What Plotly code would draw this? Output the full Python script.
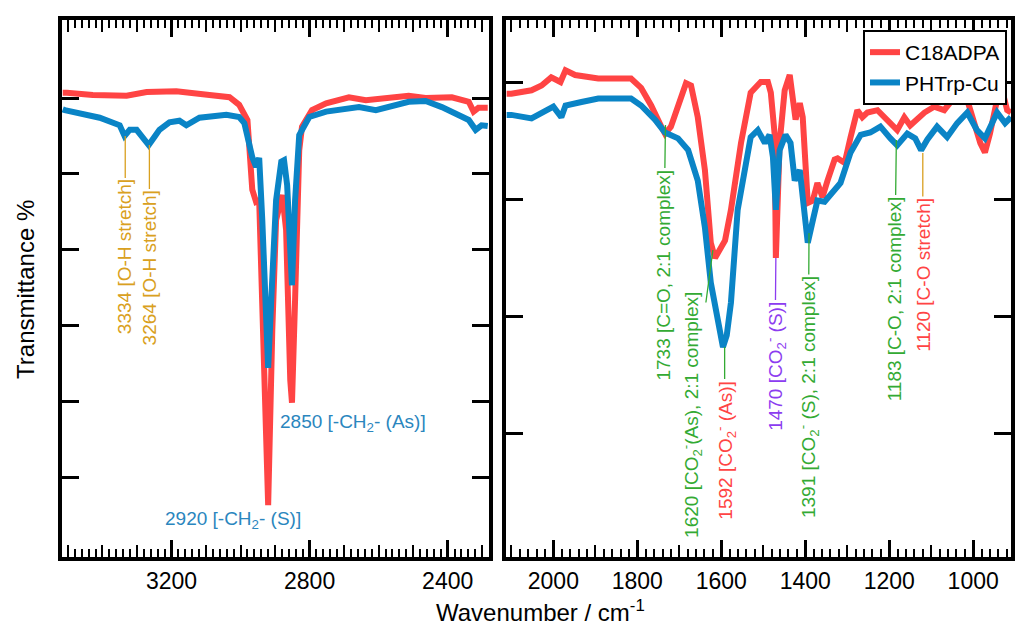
import plotly.graph_objects as go

# ---------------- data ----------------
# Left panel (C-H / O-H region)
left_wn_red = [3515, 3503, 3428, 3330, 3272, 3186, 3090, 3032, 3004, 2980, 2966, 2955, 2946,
               2934, 2920, 2908, 2897, 2879, 2868, 2856, 2851, 2842, 2830, 2822, 2793, 2752,
               2686, 2637, 2562, 2513, 2464, 2388, 2339, 2325, 2311, 2284]
left_T_red = [90.7, 90.7, 90.4, 90.3, 90.8, 90.9, 90.4, 90.1, 89.1, 87.1, 77.9, 76.3, 76.5,
              59.4, 36.3, 59.4, 73.9, 77.2, 72.6, 52.8, 49.8, 63.4, 83.1, 86.2, 88.4, 89.3,
              90.1, 89.7, 90.1, 90.3, 90.0, 90.1, 89.5, 88.2, 88.7, 88.7]

left_wn_blue = [3515, 3509, 3408, 3350, 3336, 3321, 3301, 3281, 3266, 3249, 3235, 3206, 3177,
                3157, 3119, 3041, 3004, 2989, 2975, 2966, 2955, 2946, 2937, 2929, 2920, 2911,
                2897, 2882, 2874, 2865, 2856, 2851, 2842, 2830, 2801, 2752, 2657, 2608, 2513,
                2464, 2417, 2339, 2319, 2302, 2284]
left_T_blue = [88.5, 88.4, 87.4, 86.4, 85.0, 85.8, 85.8, 84.7, 83.8, 84.9, 85.8, 86.8, 87.0,
               86.4, 87.4, 87.8, 87.5, 86.7, 83.8, 82.2, 80.9, 82.1, 73.9, 63.4, 54.4, 63.4,
               76.5, 81.6, 81.8, 78.5, 69.9, 65.3, 76.5, 85.1, 87.5, 88.2, 88.8, 88.4, 89.5,
               89.6, 88.8, 87.1, 85.8, 86.4, 86.3]

# Right panel (fingerprint region)
right_wn_red = [2112, 2100, 2052, 2028, 2005, 1983, 1971, 1948, 1893, 1829, 1815, 1791, 1767,
                1743, 1734, 1720, 1698, 1684, 1672, 1656, 1639, 1625, 1615, 1591, 1577, 1553,
                1530, 1506, 1489, 1482, 1473, 1470, 1461, 1449, 1437, 1430, 1423, 1413, 1406,
                1394, 1382, 1371, 1359, 1347, 1330, 1323, 1306, 1292, 1276, 1264, 1252, 1228,
                1204, 1181, 1164, 1150, 1116, 1093, 1069, 1045, 1021, 1007, 983, 972, 960, 943,
                931, 919, 910]
right_T_red = [89.0, 89.0, 89.3, 89.7, 90.4, 90.0, 91.0, 90.6, 90.3, 90.2, 90.3, 89.5, 88.0,
               86.2, 85.6, 86.2, 88.5, 89.9, 89.7, 87.0, 82.5, 76.3, 75.0, 76.5, 79.1, 84.8,
               89.1, 90.0, 90.0, 89.1, 85.6, 75.0, 84.8, 89.3, 90.6, 88.7, 86.8, 88.2, 87.0,
               79.7, 79.9, 81.4, 80.2, 81.6, 83.4, 83.5, 83.1, 85.3, 87.6, 87.0, 87.4, 87.6,
               86.8, 85.9, 87.0, 86.3, 87.4, 87.9, 87.6, 88.7, 89.3, 87.6, 84.8, 84.0, 85.6, 88.5,
               89.3, 87.6, 87.4]

right_wn_blue = [2112, 2100, 2052, 2028, 2000, 1981, 1971, 1933, 1893, 1815, 1791, 1758, 1734,
                 1703, 1679, 1656, 1639, 1625, 1610, 1596, 1587, 1577, 1561, 1544, 1530, 1513,
                 1496, 1485, 1477, 1470, 1461, 1447, 1435, 1425, 1413, 1406, 1394, 1382, 1371,
                 1354, 1340, 1316, 1292, 1268, 1245, 1221, 1197, 1181, 1157, 1138, 1124, 1109,
                 1086, 1062, 1038, 1014, 991, 972, 943, 924, 910]
right_T_blue = [87.2, 87.2, 86.9, 87.4, 87.9, 87.0, 88.0, 88.3, 88.6, 88.6, 88.0, 86.8, 85.7,
                85.2, 84.2, 81.6, 77.6, 72.9, 69.7, 67.4, 68.4, 71.2, 79.1, 82.8, 85.3, 85.9,
                84.8, 85.5, 83.6, 79.1, 84.2, 85.5, 84.8, 81.6, 82.5, 80.2, 76.3, 78.2, 79.9,
                79.8, 80.4, 81.4, 84.0, 85.5, 85.7, 86.2, 85.2, 84.6, 85.6, 85.2, 84.2, 85.1,
                86.2, 85.3, 86.5, 87.4, 85.9, 85.2, 87.4, 86.5, 87.0]

# Peak labels
left_peak_wn = [3334, 3264]
left_peak_T = [85.0, 83.8]
left_peak_text = ["3334 [O-H stretch]", "3264 [O-H stretch]"]

ch_label_wn = [3021, 2674]
ch_label_T = [34.3, 47.1]
ch_label_text = ["2920 [-CH<sub>2</sub>- (S)]", "2850 [-CH<sub>2</sub>- (As)]"]

right_peak_wn = [1733, 1620, 1592, 1470, 1391, 1183, 1120]
right_peak_T = [86.33, 75.68, 67.41, 75.0, 77.13, 85.06, 83.95]
right_peak_text = [
    "1733 [C=O, 2:1 complex]",
    "1620 [CO<sub>2</sub><sup>-</sup>(As), 2:1 complex]",
    "1592 [CO<sub>2</sub><sup>-</sup> (As)]",
    "1470 [CO<sub>2</sub><sup>-</sup> (S)]",
    "1391 [CO<sub>2</sub><sup>-</sup> (S), 2:1 complex]",
    "1183 [C-O, 2:1 complex]",
    "1120 [C-O stretch]",
]

series_names = ["C18ADPA", "PHTrp-Cu"]

# ---------------- style ----------------
W, H = 1015, 626
FONT = "Liberation Sans, Arial, Helvetica, sans-serif"
RED = "#FF4444"
BLUE = "#0A84C6"
GREEN = "#33AA33"
ORANGE = "#D9A020"
PURPLE = "#8C3CF0"
LBLUE = "#2A86BE"
LW = 6

left_off = [(0, 121), (0, 123)]
left_col = [(ORANGE, ORANGE), (ORANGE, ORANGE)]
right_off = [(-2, 150), (-22, 165), (0, 103), (-1, 108), (-1, 164), (-2, 159), (0, 122)]
right_col = [(GREEN, GREEN), (GREEN, GREEN), (RED, GREEN), (PURPLE, PURPLE),
             (GREEN, GREEN), (GREEN, GREEN), (RED, ORANGE)]


def px_x(p):
    return p / W


def px_y(p):
    return 1 - p / H


fig = go.Figure()
fig.add_trace(go.Scatter(x=left_wn_red, y=left_T_red, xaxis="x", yaxis="y", mode="lines",
                         line=dict(color=RED, width=LW), name=series_names[0], showlegend=False,
                         hoverinfo="skip"))
fig.add_trace(go.Scatter(x=left_wn_blue, y=left_T_blue, xaxis="x", yaxis="y", mode="lines",
                         line=dict(color=BLUE, width=LW), name=series_names[1], showlegend=False,
                         hoverinfo="skip"))
fig.add_trace(go.Scatter(x=right_wn_red, y=right_T_red, xaxis="x2", yaxis="y2", mode="lines",
                         line=dict(color=RED, width=LW), name=series_names[0]))
fig.add_trace(go.Scatter(x=right_wn_blue, y=right_T_blue, xaxis="x2", yaxis="y2", mode="lines",
                         line=dict(color=BLUE, width=LW), name=series_names[1]))
# empty traces to host the medium-tick overlay axes
fig.add_trace(go.Scatter(x=[], y=[], xaxis="x3", yaxis="y", showlegend=False, hoverinfo="skip"))
fig.add_trace(go.Scatter(x=[], y=[], xaxis="x4", yaxis="y2", showlegend=False, hoverinfo="skip"))

xdom_l = [px_x(62), px_x(490)]
xdom_r = [px_x(508), px_x(1014)]
ydom = [px_y(557), px_y(20)]
xr_l = [3517.7, 2281.6]
xr_r = [2111.6, 909.9]

base_x = dict(showline=True, linecolor="black", linewidth=4, mirror="ticks", ticks="inside",
              ticklen=17, tickwidth=2.5, tickcolor="black", showgrid=False, zeroline=False,
              tickfont=dict(size=23, color="black", family=FONT), tick0=0,
              minor=dict(ticks="inside", ticklen=8, tickwidth=2, tickcolor="black", dtick=20,
                         tick0=0, showgrid=False))
mid_x = dict(showline=False, mirror="ticks", ticks="inside", ticklen=12, tickwidth=2.2,
             tickcolor="black", showgrid=False, zeroline=False, showticklabels=False,
             dtick=100, tick0=0)
base_y = dict(showline=True, linecolor="black", linewidth=4, mirror="ticks", ticks="inside",
              ticklen=17, tickwidth=3, tickcolor="black", showgrid=False, zeroline=False,
              showticklabels=False, domain=ydom)

fig.update_layout(
    width=W, height=H, autosize=False,
    margin=dict(l=0, r=0, t=0, b=0),
    paper_bgcolor="white", plot_bgcolor="white",
    font=dict(family=FONT, color="black"),
    xaxis=dict(base_x, domain=xdom_l, range=xr_l, dtick=400, anchor="y"),
    xaxis3=dict(mid_x, domain=xdom_l, range=xr_l, overlaying="x", anchor="y"),
    xaxis2=dict(base_x, domain=xdom_r, range=xr_r, dtick=200, anchor="y2"),
    xaxis4=dict(mid_x, domain=xdom_r, range=xr_r, overlaying="x2", anchor="y2"),
    yaxis=dict(base_y, range=[29.45, 100.29], tickvals=[40, 50, 60, 70, 80, 90], anchor="x"),
    yaxis2=dict(base_y, range=[49.51, 95.29], tickvals=[60, 70, 80, 90], anchor="x2"),
    legend=dict(x=px_x(1010), xanchor="right", y=px_y(30), yanchor="top",
                bgcolor="white", bordercolor="black", borderwidth=2,
                font=dict(size=21, family=FONT, color="black"), tracegroupgap=0),
    showlegend=True,
)

anns = []
for wn, t, txt, (ax, ay), (tc, lc) in zip(left_peak_wn, left_peak_T, left_peak_text, left_off, left_col):
    anns.append(dict(x=wn, y=t, xref="x", yref="y", text=txt, textangle=-90, showarrow=True,
                     arrowhead=0, arrowwidth=1.3, arrowcolor=lc, ax=ax, ay=ay,
                     font=dict(size=19, color=tc, family=FONT)))
for wn, t, txt in zip(ch_label_wn, ch_label_T, ch_label_text):
    anns.append(dict(x=wn, y=t, xref="x", yref="y", text=txt, showarrow=False,
                     xanchor="center", yanchor="middle",
                     font=dict(size=19, color=LBLUE, family=FONT)))
for wn, t, txt, (ax, ay), (tc, lc) in zip(right_peak_wn, right_peak_T, right_peak_text, right_off, right_col):
    anns.append(dict(x=wn, y=t, xref="x2", yref="y2", text=txt, textangle=-90, showarrow=True,
                     arrowhead=0, arrowwidth=1.3, arrowcolor=lc, ax=ax, ay=ay,
                     font=dict(size=19, color=tc, family=FONT)))
anns.append(dict(x=px_x(542), y=px_y(611), xref="paper", yref="paper",
                 xanchor="center", yanchor="middle",
                 text="Wavenumber / cm<sup>-1</sup>", showarrow=False,
                 font=dict(size=24, color="black", family=FONT)))
anns.append(dict(x=px_x(26), y=px_y(289), xref="paper", yref="paper", textangle=-90,
                 xanchor="center", yanchor="middle",
                 text="Transmittance %", showarrow=False,
                 font=dict(size=24, color="black", family=FONT)))
fig.update_layout(annotations=anns)

fig.write_html("out.html", config=dict(displayModeBar=False),
               post_script="document.body.style.margin='0';document.body.style.overflow='hidden';")
